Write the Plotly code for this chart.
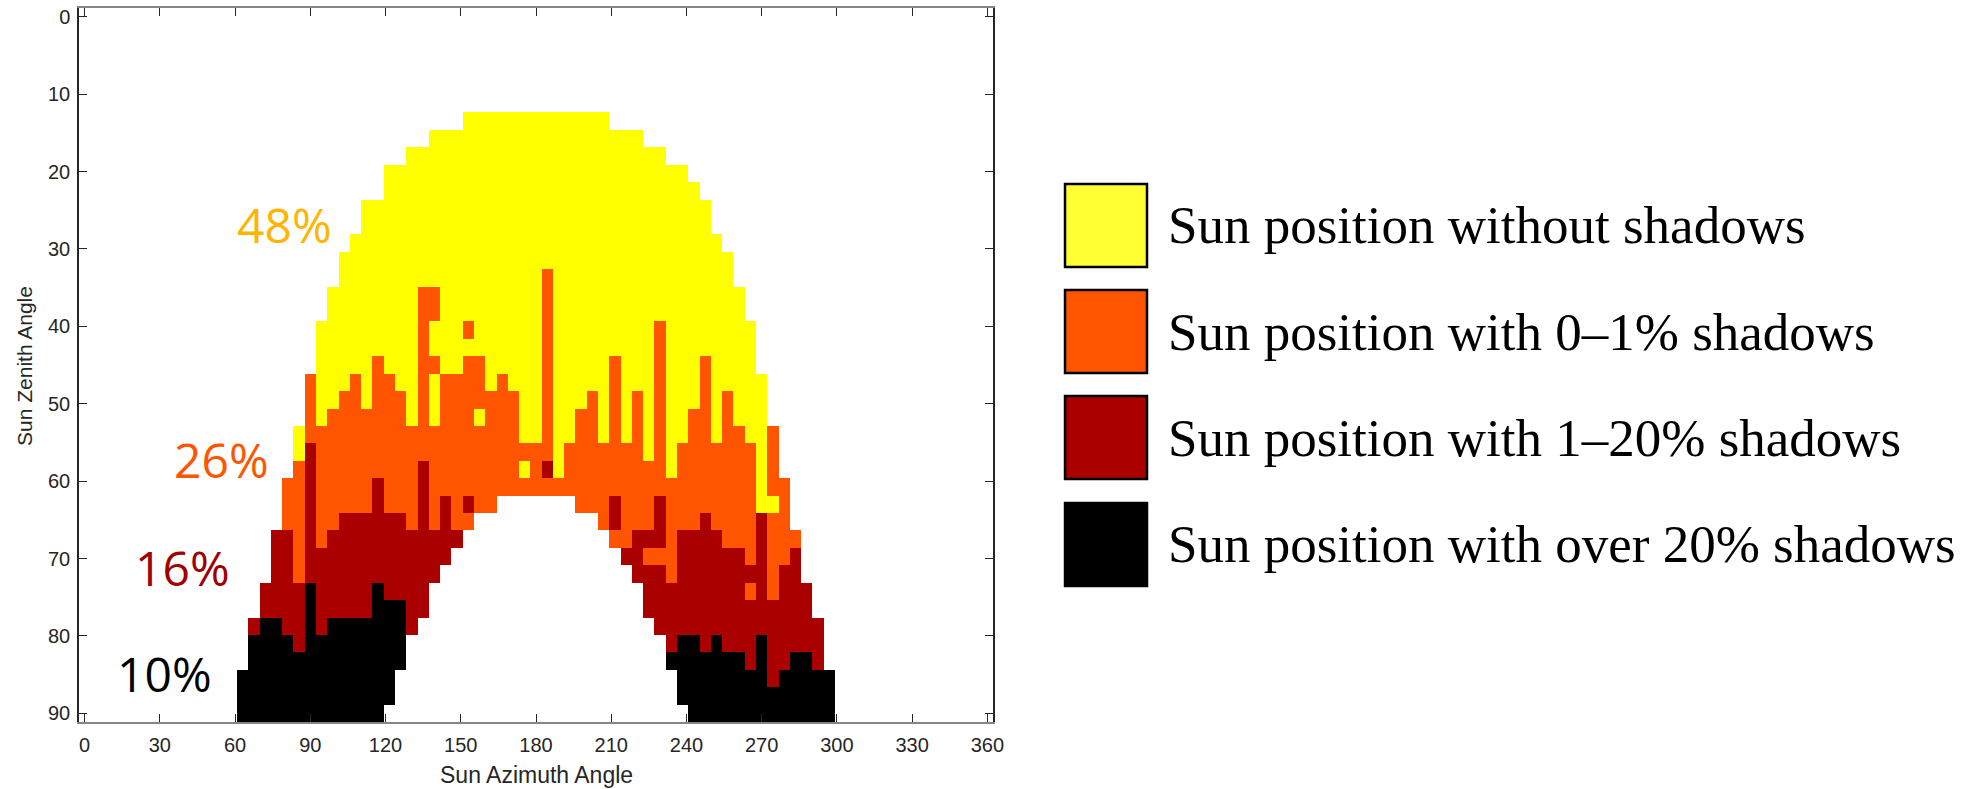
import plotly.graph_objects as go

# ---------------- data ----------------
AZ_STEP = 4.5      # azimuth bin width (deg)
ZEN_STEP = 2.25    # zenith bin height (deg)
azimuth = [i * AZ_STEP for i in range(81)]     # 0 .. 360
zenith = [j * ZEN_STEP for j in range(41)]     # 0 .. 90

category_names = [
    "Sun position without shadows",
    "Sun position with 0\u20131% shadows",
    "Sun position with 1\u201320% shadows",
    "Sun position with over 20% shadows",
]
category_codes = {"Y": 1, "O": 2, "D": 3, "K": 4}
category_colors = ["#FFFF00", "#FF5500", "#AA0000", "#000000"]
legend_box_colors = ["#FFFF33", "#FF5500", "#AA0000", "#000000"]

# shadow class per azimuth bin index: runs of zenith bin indices
# Y = no shadow, O = 0-1 %, D = 1-20 %, K = over 20 %
column_runs = {
    14: "K38-40",
    15: "D35 K36-40",
    16: "D33-34 K35-40",
    17: "D30-34 K35-40",
    18: "O27-29 D30-35 K36-40",
    19: "Y24-25 O26-32 D33-36 K37-40",
    20: "O21-24 D25-32 K33-40",
    21: "Y18-23 O24-30 D31-35 K36-40",
    22: "Y16-22 O23-29 D30-34 K35-40",
    23: "Y14-21 O22-28 D29-34 K35-40",
    24: "Y13-20 O21-28 D29-34 K35-40",
    25: "Y11-22 O23-28 D29-34 K35-40",
    26: "Y11-19 O20-26 D27-32 K33-40",
    27: "Y9-20 O21-28 D29-33 K34-39",
    28: "Y9-21 O22-28 D29-33 K34-37",
    29: "Y8-23 O24-29 D30-35",
    30: "Y8-15 O16-25 D26-34",
    31: "Y7-15 O16-17 Y18-19 O20 Y21-23 O24-29 D30-32",
    32: "Y7-20 O21-27 D28-31",
    33: "Y7-20 O21-29 D30",
    34: "Y6-17 O18 Y19 O20-27 D28 O29",
    35: "Y6-19 O20-22 Y23 O24-28",
    36: "Y6-21 O22-28",
    37: "Y6-20 O21-27",
    38: "Y6-21 O22-27",
    39: "Y6-24 O25 Y26 O27",
    40: "Y6-24 O25-27",
    41: "Y6-14 O15-25 D26 O27",
    42: "Y6-26 O27",
    43: "Y6-24 O25-27",
    44: "Y6-22 O23-28",
    45: "Y6-21 O22-28",
    46: "Y6-24 O25-29",
    47: "Y7-19 O20-27 D28-29 O30",
    48: "Y7-24 O25-30 D31",
    49: "Y7-21 O22-29 D30-32",
    50: "Y8-25 O26-29 D30 O31 D32-34",
    51: "Y8-17 O18-27 D28-30 O31 D32-35",
    52: "Y9-26 O27-32 D33-36 K37",
    53: "Y9-24 O25-29 D30-35 K36-39",
    54: "Y10-22 O23-29 D30-35 K36-40",
    55: "Y11-19 O20-28 D29-36 K37-40",
    56: "Y13-24 O25-29 D30-35 K36-40",
    57: "Y14-21 O22-30 D31-36 K37-40",
    58: "Y16-23 O24-30 D31-36 K37-40",
    59: "Y18-24 O25-31 D32 O33 D34-37 K38-40",
    60: "Y21-28 D29-35 K36-40",
    61: "O24-27 Y28 O29-33 D34-38 K39-40",
    62: "O27-31 D32-37 K38-40",
    63: "O30 D31-36 K37-40",
    64: "D33-36 K37-40",
    65: "D35-37 K38-40",
    66: "K38-40",
}

share_labels = ["48%", "26%", "16%", "10%"]
share_colors = ["#FFB400", "#FF5500", "#A00000", "#000000"]

x_ticks = list(range(0, 361, 30))
y_ticks = list(range(0, 91, 10))

# ---------------- build grid ----------------
z = [[None] * len(azimuth) for _ in zenith]
for col, spec in column_runs.items():
    for tok in spec.split():
        code, rng = tok[0], tok[1:]
        if "-" in rng:
            a, b = rng.split("-")
        else:
            a = b = rng
        for row in range(int(a), int(b) + 1):
            z[row][col] = category_codes[code]

colorscale = []
for i, c in enumerate(category_colors):
    colorscale.append([i / 4, c])
    colorscale.append([(i + 1) / 4, c])

fig = go.Figure(go.Heatmap(
    x=azimuth, y=zenith, z=z,
    colorscale=colorscale, zmin=0.5, zmax=4.5,
    showscale=False, hoverinfo="skip", xgap=0, ygap=0,
))

AX = "#262626"
tick_font = dict(family="Liberation Sans, Arial, sans-serif", size=20, color=AX)
fig.update_layout(
    width=1967, height=789,
    margin=dict(l=79, r=974, t=8, b=67),
    paper_bgcolor="white", plot_bgcolor="white",
    showlegend=False,
    xaxis=dict(range=[-AZ_STEP / 2, 360 + AZ_STEP / 2], tickmode="array",
               tickvals=x_ticks, ticktext=[str(v) for v in x_ticks],
               ticks="inside", ticklen=8, tickwidth=1.3, tickcolor=AX,
               showline=True, linecolor="#858585", linewidth=1.5, mirror="ticks",
               showgrid=False, zeroline=False, tickfont=tick_font,
               ticklabelstandoff=4, automargin=False),
    yaxis=dict(range=[90 + ZEN_STEP / 2, -ZEN_STEP / 2], tickmode="array",
               tickvals=y_ticks, ticktext=[str(v) for v in y_ticks],
               ticks="inside", ticklen=8, tickwidth=1.3, tickcolor=AX,
               showline=True, linecolor=AX, linewidth=1.5, mirror="ticks",
               showgrid=False, zeroline=False, tickfont=tick_font,
               ticklabelstandoff=3, automargin=False),
)

# axis titles
fig.add_annotation(text="Sun Azimuth Angle", xref="paper", yref="paper",
                   x=0.5, y=-0.0742, xanchor="center", yanchor="middle",
                   showarrow=False, font=dict(family="Liberation Sans, Arial", size=23, color=AX))
fig.add_annotation(text="Sun Zenith Angle", xref="paper", yref="paper",
                   x=-0.0591, y=0.4986, xanchor="center", yanchor="middle", textangle=-90,
                   showarrow=False, font=dict(family="Liberation Sans, Arial", size=21, color=AX))

# share labels inside the plot
share_pos = [(79.8, 26.8), (54.6, 57.2), (39.0, 71.1), (31.9, 84.8)]
for lab, col, (ax_, zn) in zip(share_labels, share_colors, share_pos):
    fig.add_annotation(text=lab, x=ax_, y=zn, xref="x", yref="y", showarrow=False,
                       xanchor="center", yanchor="middle",
                       font=dict(family="Open Sans, sans-serif", size=48, color=col))

# custom legend
box_y = [(0.6373, 0.7535), (0.4888, 0.6050), (0.3403, 0.4566), (0.1905, 0.3067)]
for name, colr, (y0, y1) in zip(category_names, legend_box_colors, box_y):
    fig.add_shape(type="rect", xref="paper", yref="paper", x0=1.0788, x1=1.1685,
                  y0=y0, y1=y1, fillcolor=colr, line=dict(color="#000000", width=2.5))
    fig.add_annotation(text=name, xref="paper", yref="paper", x=1.1895, y=(y0 + y1) / 2,
                       xanchor="left", yanchor="middle", showarrow=False,
                       font=dict(family="Liberation Serif, Times New Roman, serif", size=53, color="#000000"))

fig.write_html("out.html", post_script="document.body.style.margin='0px';",
               config={"displayModeBar": False})
